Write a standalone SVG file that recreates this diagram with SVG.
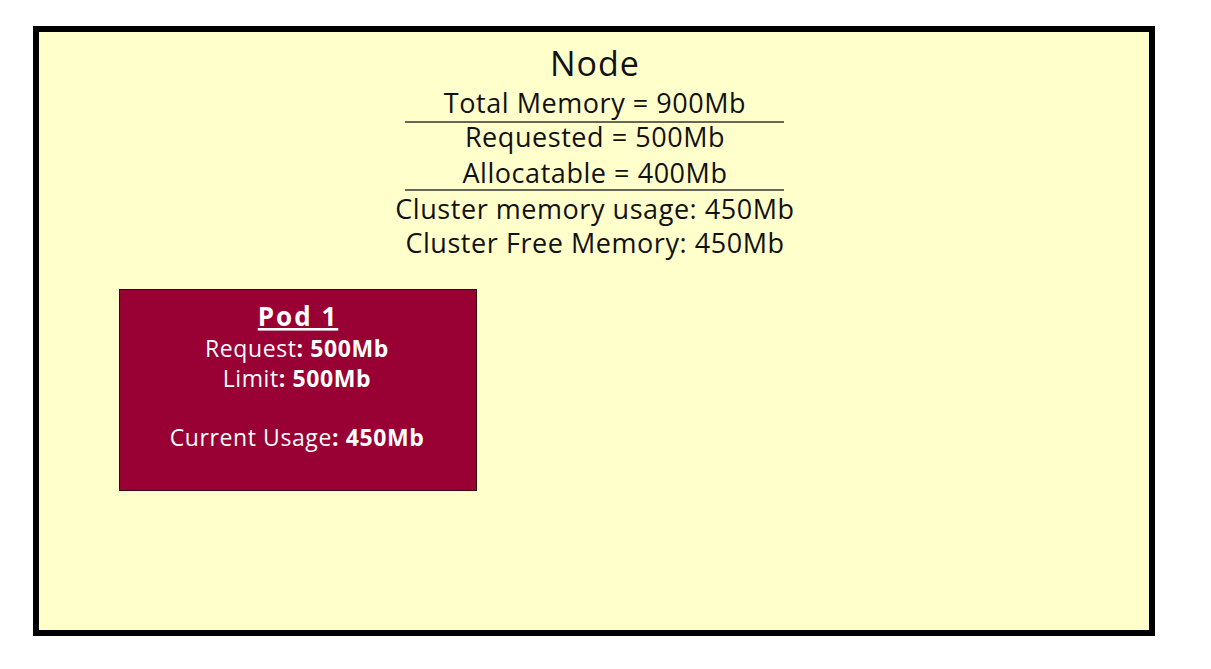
<svg xmlns="http://www.w3.org/2000/svg" width="1211" height="669" viewBox="0 0 1211 669">
<style>
.t{font-family:"Open Sans","Noto Sans","DejaVu Sans",sans-serif;fill:#111;text-anchor:middle;font-size:27px;letter-spacing:0.55px}
.p{font-family:"Open Sans","Noto Sans","DejaVu Sans",sans-serif;fill:#fff;text-anchor:middle;font-size:23px;letter-spacing:0.6px}
.b{font-weight:bold}
.sep{stroke:#333;stroke-width:1.5}
</style>
<rect width="1211" height="669" fill="#fff"/>
<g id="node">
<rect x="36" y="29" width="1116" height="604" fill="#ffffcc" stroke="#000" stroke-width="6"/>
<text class="t" x="595" y="76" style="font-size:34px;letter-spacing:1px">Node</text>
<text class="t" x="595" y="113">Total Memory = 900Mb</text>
<line class="sep" x1="405" y1="122" x2="784" y2="122"/>
<text class="t" x="595" y="147">Requested = 500Mb</text>
<text class="t" x="595" y="183">Allocatable = 400Mb</text>
<line class="sep" x1="405" y1="190" x2="784" y2="190"/>
<text class="t" x="595" y="219">Cluster memory usage: 450Mb</text>
<text class="t" x="595" y="253">Cluster Free Memory: 450Mb</text>
</g>
<g id="pod1">
<rect x="119.5" y="289.5" width="357" height="201" fill="#990033" stroke="#3a0010" stroke-width="1"/>
<text class="p b" x="298" y="326" style="font-size:26px;letter-spacing:2px" text-decoration="underline">Pod 1</text>
<text class="p" x="297" y="357">Request<tspan class="b">: 500Mb</tspan></text>
<text class="p" x="297" y="387">Limit<tspan class="b">: 500Mb</tspan></text>
<text class="p" x="297" y="446">Current Usage<tspan class="b">: 450Mb</tspan></text>
</g>
<g id="connectors"/>
</svg>
